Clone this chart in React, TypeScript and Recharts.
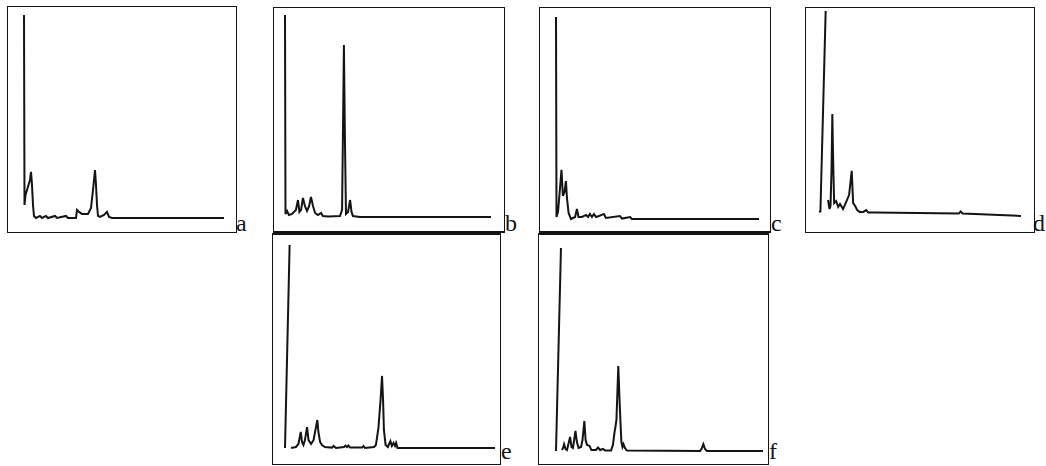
import { Line, LineChart, XAxis, YAxis } from "recharts";

// retention (0-100 of trace width) and relative signal (% of the solvent spike)
const aTime = [0, 0.25, 0.75, 1.5, 3, 3.5, 4, 4.5, 5, 6, 8, 9, 11, 12, 15.5, 16.5, 21, 22, 26, 26.5, 27.5, 29, 32, 33.5, 34.5, 35.5, 36, 36.5, 37, 38, 40, 41.5, 42.5, 44, 100];
const aSignal = [100, 6.4, 11.3, 13.8, 18.7, 22.7, 16.3, 6.4, 1, 0, 1, 0, 1, 0, 1, 0, 1, 0, 0, 4, 3, 2, 2, 5, 13.8, 23.6, 16.3, 6.4, 1, 0.5, 1.5, 3, 0.5, 0, 0];

const bTime = [0, 0.24, 1, 1.9, 3.4, 5.3, 6.3, 7, 7.8, 8.7, 9.7, 10.7, 11.7, 12.6, 13.6, 14.6, 16, 17.5, 18.4, 20.9, 26.7, 27.7, 28.2, 28.6, 29.1, 29.6, 30.6, 31.6, 32.3, 33, 36.4, 100];
const bSignal = [100, 1.5, 3, 1, 1.5, 3.5, 8.4, 2.5, 3.5, 9.4, 5.4, 3, 5.4, 9.9, 5.4, 2, 1, 2, 0.5, 0.2, 0.5, 3.5, 48, 85.1, 38, 1.5, 2.5, 8.4, 2.5, 0.5, 0, 0];

const cTime = [0, 0.25, 1, 1.7, 2.7, 3.4, 4.2, 4.9, 5.4, 6.2, 7.4, 9.4, 10.3, 11.1, 12.8, 14.8, 15.8, 16.7, 17.7, 18.7, 19.7, 21.2, 23.6, 24.6, 31.5, 32.5, 36.5, 37.4, 100];
const cSignal = [100, 1, 3.5, 11.9, 24.3, 11.4, 13.4, 18.8, 10.4, 3, 0, 1, 5, 1, 1, 2, 1, 2.5, 1, 2.5, 1, 1.5, 2.5, 0.5, 1.5, 0.2, 1, 0, 0];

const dTime = [0, 0.7, 3.3, 3.4, 4.5, 5.2, 5.7, 6.2, 6.6, 7, 7.5, 8.5, 9.5, 10.4, 11.9, 13.4, 14.9, 16.2, 16.9, 17.9, 18.9, 20.1, 21.9, 23.4, 24.4, 27.9, 69.2, 70.1, 71.1, 100];
const dSignal = [2, 2.2, 100, null, 7.8, 3.4, 4.9, 22.4, 49.8, 27.3, 6.3, 7.3, 4.4, 5.9, 3.4, 6.8, 10.2, 22, 6.3, 4.9, 2.9, 2, 2, 2.9, 1.7, 1.7, 1.2, 2.2, 1.2, 0];

const eTime = [0, 2.2, 2.5, 2.9, 5.2, 6.4, 7.5, 8.1, 8.8, 9.5, 10.5, 11.2, 12.4, 13.6, 14.3, 15.4, 15.9, 16.7, 17.6, 19, 22.4, 23.1, 24.3, 28.1, 28.8, 29.5, 30.2, 31, 36.7, 37.4, 38.1, 42.4, 43.3, 44.5, 45.5, 46.2, 46.7, 47.1, 47.9, 49, 50.2, 50.9, 51.7, 52.4, 52.9, 53.6, 100];
const eSignal = [0, 100, null, 0, 0.5, 2, 7.9, 3, 1.5, 3.9, 10.3, 3.9, 2, 3.9, 7.9, 13.8, 7.9, 3, 1.5, 0.5, 0.2, 1, 0, 0.5, 1.2, 0.5, 1.2, 0.2, 0.2, 1, 0, 0.5, 1.5, 9.9, 23.6, 35.5, 23.6, 8.9, 1.5, 0.5, 3.4, 1, 2.5, 1, 2.5, 0, 0];

const fTime = [0, 2.4, 2.6, 2.9, 3.4, 3.9, 4.6, 5.3, 6, 6.8, 7.5, 8.2, 8.9, 9.4, 10.1, 10.9, 12.1, 12.8, 13.7, 14.3, 15, 16.2, 17.1, 19.3, 20.3, 21.3, 22.7, 23.7, 26.6, 27.5, 28.3, 28.7, 29.2, 29.7, 30.1, 30.6, 31.2, 31.6, 32.1, 32.6, 33.3, 34.3, 69.6, 70.5, 71.2, 72, 72.9, 100];
const fSignal = [0, 100, null, 0.5, 1.5, 3.4, 1, 0.5, 3.4, 6.9, 2, 1.5, 6.4, 9.9, 4.4, 1.5, 2, 5.4, 14.8, 5.4, 3, 2.5, 0.5, 0.5, 1.7, 0.5, 1, 0.2, 0.2, 3, 9.4, 11.8, 15.3, 30, 41.9, 27.6, 12.8, 4.4, 2, 3.4, 1.5, 0.2, 0, 1.5, 3.4, 1, 0, 0];

const panelLabels = ["a", "b", "c", "d", "e", "f"];

type Box = { x: number; y: number; w: number; h: number };

const INK = "#141414";
const PAD = 4;

function Trace({ time, signal, plot }: { time: number[]; signal: (number | null)[]; plot: Box }) {
  const rows = time.map((t, i) => ({ t, v: signal[i] }));
  return (
    <div style={{ position: "absolute", left: plot.x - PAD, top: plot.y - PAD }}>
      <LineChart
        width={plot.w + PAD * 2}
        height={plot.h + PAD * 2}
        data={rows}
        margin={{ top: PAD, right: PAD, bottom: PAD, left: PAD }}
      >
        <XAxis dataKey="t" type="number" domain={[0, 100]} hide />
        <YAxis type="number" domain={[0, 100]} hide />
        <Line
          type="linear"
          dataKey="v"
          stroke={INK}
          strokeWidth={2}
          dot={false}
          activeDot={false}
          isAnimationActive={false}
        />
      </LineChart>
    </div>
  );
}

export default function App() {
  const panels = [
    { time: aTime, signal: aSignal, frame: { x: 7, y: 6, w: 230, h: 227 }, plot: { x: 24, y: 15, w: 200, h: 203 }, lab: [236, 236] },
    { time: bTime, signal: bSignal, frame: { x: 273, y: 7, w: 232, h: 226 }, plot: { x: 285, y: 15, w: 206, h: 202 }, lab: [505, 236] },
    { time: cTime, signal: cSignal, frame: { x: 539, y: 7, w: 232, h: 226 }, plot: { x: 556, y: 17, w: 203, h: 202 }, lab: [771, 236] },
    { time: dTime, signal: dSignal, frame: { x: 805, y: 7, w: 230, h: 226 }, plot: { x: 819, y: 11, w: 202, h: 205 }, lab: [1033, 236] },
    { time: eTime, signal: eSignal, frame: { x: 272, y: 233, w: 229, h: 232 }, plot: { x: 285, y: 245, w: 210, h: 203 }, lab: [501, 464] },
    { time: fTime, signal: fSignal, frame: { x: 538, y: 233, w: 231, h: 232 }, plot: { x: 556, y: 248, w: 207, h: 203 }, lab: [769, 464] },
  ];

  return (
    <div style={{ position: "absolute", left: 0, top: 0, width: 1046, height: 466, background: "#fff", overflow: "hidden" }}>
      {panels.map((p, i) => (
        <div key={panelLabels[i]}>
          <div
            style={{
              position: "absolute",
              left: p.frame.x,
              top: p.frame.y,
              width: p.frame.w,
              height: p.frame.h,
              boxSizing: "border-box",
              border: `1.5px solid ${INK}`,
              borderBottomWidth: i === 1 || i === 2 ? 2 : 1.5,
              borderTopWidth: i >= 4 ? 2 : 1.5,
            }}
          />
          <Trace time={p.time} signal={p.signal} plot={p.plot} />
          <div
            style={{
              position: "absolute",
              left: p.lab[0],
              top: p.lab[1] - 26,
              height: 26,
              lineHeight: "26px",
              fontFamily: "'Liberation Serif', serif",
              fontSize: 24,
              color: INK,
            }}
          >
            {panelLabels[i]}
          </div>
        </div>
      ))}
    </div>
  );
}
